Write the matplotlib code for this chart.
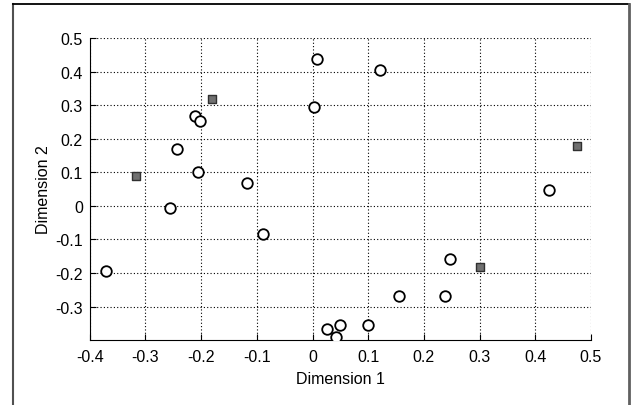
import matplotlib
matplotlib.use('Agg')
import matplotlib.pyplot as plt
from matplotlib.lines import Line2D

plt.rcParams['font.family'] = ['Liberation Sans', 'DejaVu Sans']

# circles: items
circ_x = [0.008, 0.122, 0.002, -0.211, -0.202, -0.244, -0.206, -0.117, 0.425,
          -0.256, -0.089, -0.371, 0.247, 0.156, 0.238, 0.026, 0.049, 0.099, 0.043]
circ_y = [0.437, 0.404, 0.296, 0.268, 0.253, 0.171, 0.100, 0.067, 0.047,
          -0.007, -0.083, -0.194, -0.158, -0.268, -0.270, -0.366, -0.355, -0.355, -0.391]
# squares
sq_x = [-0.181, 0.475, -0.317, 0.301]
sq_y = [0.320, 0.179, 0.090, -0.183]

xticks = [-0.4, -0.3, -0.2, -0.1, 0, 0.1, 0.2, 0.3, 0.4, 0.5]
yticks = [-0.3, -0.2, -0.1, 0, 0.1, 0.2, 0.3, 0.4, 0.5]

fig = plt.figure(figsize=(6.33, 4.06), dpi=100)
ax = fig.add_axes([0.1419, 0.1608, 0.7916, 0.7424])

ax.scatter(circ_x, circ_y, s=58, facecolor='white', edgecolor='black',
           linewidth=1.3, zorder=3)
ax.scatter(sq_x, sq_y, s=38, marker='s', facecolor='#707070', edgecolor='#303030',
           linewidth=1.0, zorder=3)

ax.set_xlim(-0.4, 0.5)
ax.set_ylim(-0.399, 0.5)
ax.set_xticks(xticks)
ax.set_xticklabels([('%g' % t) for t in xticks])
ax.set_yticks(yticks)
ax.set_yticklabels([('%g' % t) for t in yticks])

ax.grid(True, linestyle=(0, (1, 2)), color='black', linewidth=0.8)
ax.set_axisbelow(True)
ax.spines['top'].set_visible(False)
ax.spines['right'].set_visible(False)
ax.tick_params(direction='in', length=4, labelsize=11.5, top=False, right=False)
ax.tick_params(axis='x', pad=6.5)
ax.tick_params(axis='y', pad=5)

ax.set_xlabel('Dimension 1', fontsize=11.5, labelpad=5)
ax.set_ylabel('Dimension 2', fontsize=11.5, labelpad=3)

# outer frame (bottom side open)
fig.add_artist(Line2D([12.5/633, 12.5/633], [0, 1 - 5/406], transform=fig.transFigure,
                      color='#505050', linewidth=1.5))
fig.add_artist(Line2D([12.5/633, 629/633], [1 - 5/406, 1 - 5/406], transform=fig.transFigure,
                      color='black', linewidth=1.3))
fig.add_artist(Line2D([629/633, 629/633], [0, 1 - 5/406], transform=fig.transFigure,
                      color='#606060', linewidth=2.0))

fig.savefig('out.png', dpi=100)
